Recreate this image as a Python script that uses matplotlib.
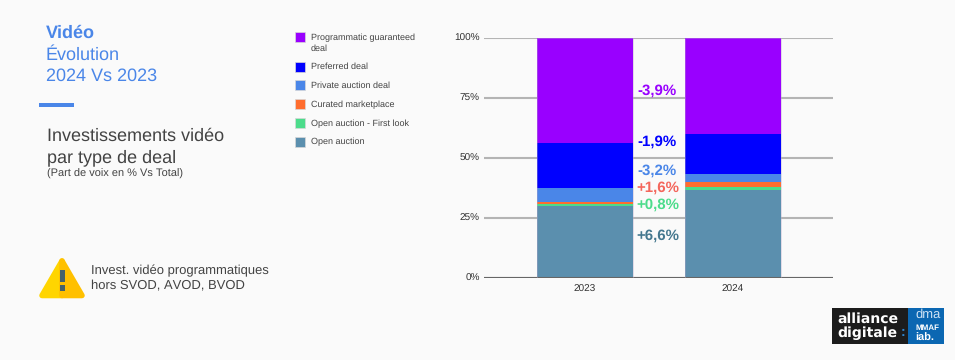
import matplotlib
matplotlib.use("Agg")
import matplotlib.pyplot as plt
from matplotlib.patches import Rectangle, Polygon

years = ["2023", "2024"]
deals = ["Open auction", "Open auction - First look", "Curated marketplace",
         "Private auction deal", "Preferred deal", "Programmatic guaranteed\ndeal"]
open_auction = [30.0, 36.6]
first_look = [0.5, 1.3]
curated = [0.9, 2.1]
private = [5.7, 3.0]
preferred = [18.9, 16.9]
guaranteed = [44.0, 40.1]
series = [open_auction, first_look, curated, private, preferred, guaranteed]
colors = ["#5b8fae", "#4cdc8b", "#ff6d2e", "#4a86e8", "#0000ff", "#9900ff"]
y_ticks = [0, 25, 50, 75, 100]
y_tick_labels = ["0%", "25%", "50%", "75%", "100%"]
delta_labels = ["-3,9%", "-1,9%", "-3,2%", "+1,6%", "+0,8%", "+6,6%"]
delta_colors = ["#9900ff", "#0000ff", "#4a86e8", "#f4665c", "#4cdc8b", "#45788f"]
delta_base = [95, 145.5, 175, 192, 208.5, 240]

W, H = 955, 360
BG = "#fafafa"
plt.rcParams["font.family"] = ["Liberation Sans", "DejaVu Sans"]
plt.rcParams["text.hinting"] = "no_hinting"
plt.rcParams["text.hinting_factor"] = 1
fig = plt.figure(figsize=(W / 100, H / 100), dpi=100, facecolor=BG)
L, R, T, B = 484, 833, 37.5, 277.5
ax = fig.add_axes([L / W, 1 - B / H, (R - L) / W, (B - T) / H], facecolor="none")
c0, step = 585, 148
ax.set_xlim((L - c0) / step, (R - c0) / step)
ax.set_ylim(0, 100)
ax.set_yticks(y_ticks, y_tick_labels)
ax.set_xticks([0, 1], years)
ax.tick_params(length=0, labelsize=7.0, colors="#333333", pad=3)
ax.tick_params(axis="x", pad=5)
ax.grid(axis="y", color="#b4b4b4", lw=1.5, zorder=0)
ax.set_axisbelow(True)
for s in ax.spines.values():
    s.set_visible(False)
bottom = [0.0, 0.0]
for vals, col in zip(series, colors):
    ax.bar([0, 1], vals, width=96 / step, bottom=bottom, color=col, zorder=2)
    bottom = [b + v for b, v in zip(bottom, vals)]
ax.axhline(0, color="#666666", lw=1.5, zorder=3)
for spine_x in (0, 1):
    ax.bar(spine_x, 100, width=96 / step, fc="none", ec="#b9a9c9", lw=0.6, alpha=0.45, zorder=3)


def ftext(px, py, s, **kw):
    fig.text(px / W, 1 - py / H, s, va="baseline", **kw)


for s, col, py in zip(delta_labels, delta_colors, delta_base):
    ftext(657.5, py, s, color=col, fontsize=10.9, fontweight="bold", ha="center")

# left text block
ftext(46, 37.7, "Vidéo", color="#4a86e8", fontsize=13, fontweight="bold")
ftext(46, 60, "Évolution", color="#4a86e8", fontsize=13)
ftext(46, 81, "2024 Vs 2023", color="#4a86e8", fontsize=13)
fig.add_artist(Rectangle((39 / W, 1 - 107.3 / H), 35 / W, 4.5 / H, transform=fig.transFigure, fc="#4a86e8", ec="none"))
ftext(47, 141, "Investissements vidéo", color="#434343", fontsize=13)
ftext(47, 162, "par type de deal", color="#434343", fontsize=13)
ftext(47, 177, "(Part de voix en % Vs Total)", color="#434343", fontsize=7.8)
ftext(91, 274, "Invest. vidéo programmatiques", color="#434343", fontsize=9.4)
ftext(91, 289, "hors SVOD, AVOD, BVOD", color="#434343", fontsize=9.4)

# legend
leg_y = [37.3, 66.7, 85.3, 104.3, 123.3, 142]
for name, col, py in zip(deals[::-1], colors[::-1], leg_y):
    fig.add_artist(Rectangle((295 / W, 1 - (py + 5) / H), 10 / W, 10 / H, transform=fig.transFigure,
                             fc=col, ec="#d8d8d8", lw=0.5))
    for i, line in enumerate(name.split("\n")):
        ftext(310.5, py + 2.5 + 11 * i, line, color="#444444", fontsize=6.55)

# warning sign
fig.add_artist(Polygon([(42 / W, 1 - 295.5 / H), (62 / W, 1 - 261 / H), (62 / W, 1 - 295.5 / H)], closed=True,
                       transform=fig.transFigure, fc="#ffd500", ec="#ffd500", lw=4, joinstyle="round"))
fig.add_artist(Polygon([(82 / W, 1 - 295.5 / H), (62 / W, 1 - 261 / H), (62 / W, 1 - 295.5 / H)], closed=True,
                       transform=fig.transFigure, fc="#ffc000", ec="#ffc000", lw=4, joinstyle="round"))
fig.add_artist(Rectangle((59.5 / W, 1 - 282 / H), 5.5 / W, 12.5 / H, transform=fig.transFigure, fc="#45616b", ec="none"))
fig.add_artist(Rectangle((59.5 / W, 1 - 290.7 / H), 5.5 / W, 5.7 / H, transform=fig.transFigure, fc="#45616b", ec="none"))

# logo
fig.add_artist(Rectangle((832 / W, 1 - 344 / H), 76 / W, 36 / H, transform=fig.transFigure, fc="#1c1c1c", ec="none"))
fig.add_artist(Rectangle((908 / W, 1 - 344 / H), 36 / W, 36 / H, transform=fig.transFigure, fc="#0b67b2", ec="none"))
ftext(837, 323, "alliance", color="white", fontsize=10.2, fontweight="bold", family="DejaVu Sans")
ftext(837, 336.5, "digitale", color="white", fontsize=10.2, fontweight="bold", family="DejaVu Sans")
ftext(901, 336.5, ":", color="#2f86d0", fontsize=10, fontweight="bold")
ftext(915, 318, "dma", color="#cfe3f5", fontsize=9)
ftext(915, 329.5, "MMAF", color="white", fontsize=5.5, fontweight="bold")
ftext(915, 340.7, "iab.", color="white", fontsize=8, fontweight="bold")

fig.savefig("out.png", dpi=100, facecolor=BG)
